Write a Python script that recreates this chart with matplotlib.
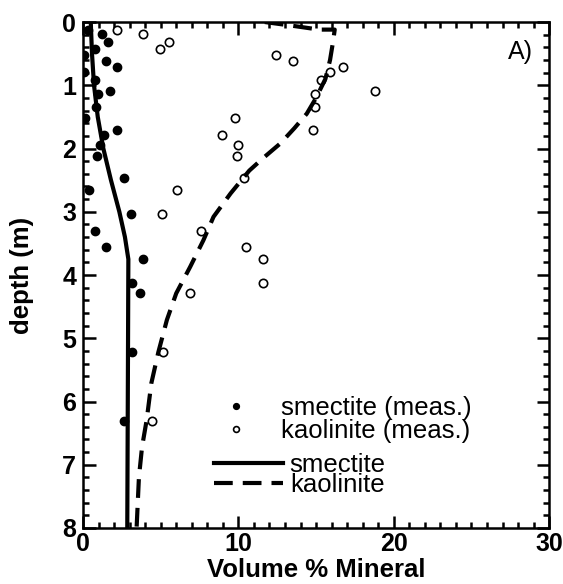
import matplotlib
matplotlib.use("Agg")
import matplotlib.pyplot as plt
from matplotlib.ticker import MultipleLocator

# measured smectite (filled dots): volume %, depth (m)
smec_meas_x = [0.34, 1.24, 1.59, 0.79, 0.04, 1.46, 2.17, 0.04, 0.77, 1.74, 0.99, 0.84, 0.15,
               2.17, 1.37, 1.09, 0.88, 2.66, 0.41, 3.07, 0.77, 1.48, 3.88, 3.18, 3.67, 3.13, 2.64]
smec_meas_d = [0.12, 0.19, 0.32, 0.43, 0.52, 0.62, 0.71, 0.79, 0.91, 1.09, 1.14, 1.34, 1.52,
               1.71, 1.79, 1.94, 2.12, 2.47, 2.66, 3.04, 3.30, 3.56, 3.74, 4.12, 4.28, 5.22, 6.31]

# measured kaolinite (open dots)
kao_meas_x = [2.17, 3.88, 5.56, 4.96, 12.43, 13.50, 16.74, 15.9, 15.3, 18.78, 14.9, 14.94, 14.79,
              9.79, 8.93, 10.0, 9.9, 10.39, 6.05, 5.09, 7.58, 10.48, 11.59, 11.59, 6.87, 5.17, 4.46]
kao_meas_d = [0.12, 0.19, 0.32, 0.43, 0.52, 0.62, 0.71, 0.79, 0.91, 1.09, 1.14, 1.35, 1.71,
              1.52, 1.79, 1.94, 2.12, 2.47, 2.66, 3.04, 3.30, 3.56, 3.74, 4.12, 4.28, 5.22, 6.31]

# modelled profiles
smec_model_x = [0.5, 0.58, 0.71, 0.95, 1.31, 1.8, 2.34, 2.7, 2.92, 2.9, 2.85]
smec_model_d = [0.0, 0.5, 1.0, 1.5, 2.0, 2.5, 3.0, 3.4, 3.75, 5.0, 8.0]

kao_model_x = [11.7, 13.5, 15.2, 16.2, 16.1, 15.9, 15.6, 15.0, 14.4, 13.6, 12.7, 11.6, 10.7,
               9.5, 8.4, 7.75, 6.9, 6.0, 5.4, 4.85, 4.4, 4.1, 3.8, 3.6, 3.45]
kao_model_d = [0.0, 0.06, 0.12, 0.12, 0.3, 0.6, 0.9, 1.2, 1.45, 1.68, 1.92, 2.15, 2.35,
               2.71, 3.08, 3.45, 3.87, 4.29, 4.71, 5.22, 5.71, 6.29, 6.72, 7.2, 8.0]

plt.rcParams['font.family'] = ['Liberation Sans', 'DejaVu Sans']

fig = plt.figure(figsize=(5.63, 5.84), dpi=100)
ax = fig.add_axes([0.1474, 0.0959, 0.828, 0.8664])

ax.plot(smec_meas_x, smec_meas_d, 'o', color='black', markersize=6, label='smectite (meas.)')
ax.plot(kao_meas_x, kao_meas_d, 'o', markerfacecolor='white', markeredgecolor='black',
        markersize=6, markeredgewidth=1.2, label='kaolinite (meas.)')
ax.plot(smec_model_x, smec_model_d, '-', color='black', lw=3, label='smectite')
ax.plot(kao_model_x, kao_model_d, color='black', lw=3, linestyle=(0, (4.5, 2.4)),
        label='kaolinite')

ax.set_xlim(0, 30)
ax.set_ylim(8, 0)
ax.xaxis.set_major_locator(MultipleLocator(10))
ax.xaxis.set_minor_locator(MultipleLocator(1))
ax.yaxis.set_major_locator(MultipleLocator(1))
ax.yaxis.set_minor_locator(MultipleLocator(0.2))
ax.tick_params(which='both', direction='in', top=True, right=True, width=1.8,
               labelsize=18, pad=5)
ax.tick_params(axis='x', pad=3)
ax.tick_params(which='major', length=9)
ax.tick_params(which='minor', length=4.5)
for lab in ax.get_xticklabels() + ax.get_yticklabels():
    lab.set_fontweight('bold')
for s in ax.spines.values():
    s.set_linewidth(1.8)

ax.set_xlabel('Volume % Mineral', fontsize=18.5, fontweight='bold', labelpad=1)
ax.set_ylabel('depth (m)', fontsize=18.5, fontweight='bold', labelpad=20)

ax.text(0.966, 0.94, 'A)', transform=ax.transAxes, ha='right', va='center', fontsize=18)

h, lbl = ax.get_legend_handles_labels()
leg1 = ax.legend(h[:2], lbl[:2], loc='upper left', bbox_to_anchor=(0.303, 0.260),
                 frameon=False, fontsize=18.5, markerscale=0.7, handlelength=0.9,
                 handletextpad=1.3, labelspacing=-0.05, borderpad=0, borderaxespad=0)
ax.add_artist(leg1)
ax.legend(h[2:], lbl[2:], loc='upper left', bbox_to_anchor=(0.281, 0.148),
          frameon=False, fontsize=18.5, handlelength=2.7, handletextpad=0.25,
          labelspacing=-0.15, borderpad=0, borderaxespad=0)

fig.savefig('out.png', dpi=100)
